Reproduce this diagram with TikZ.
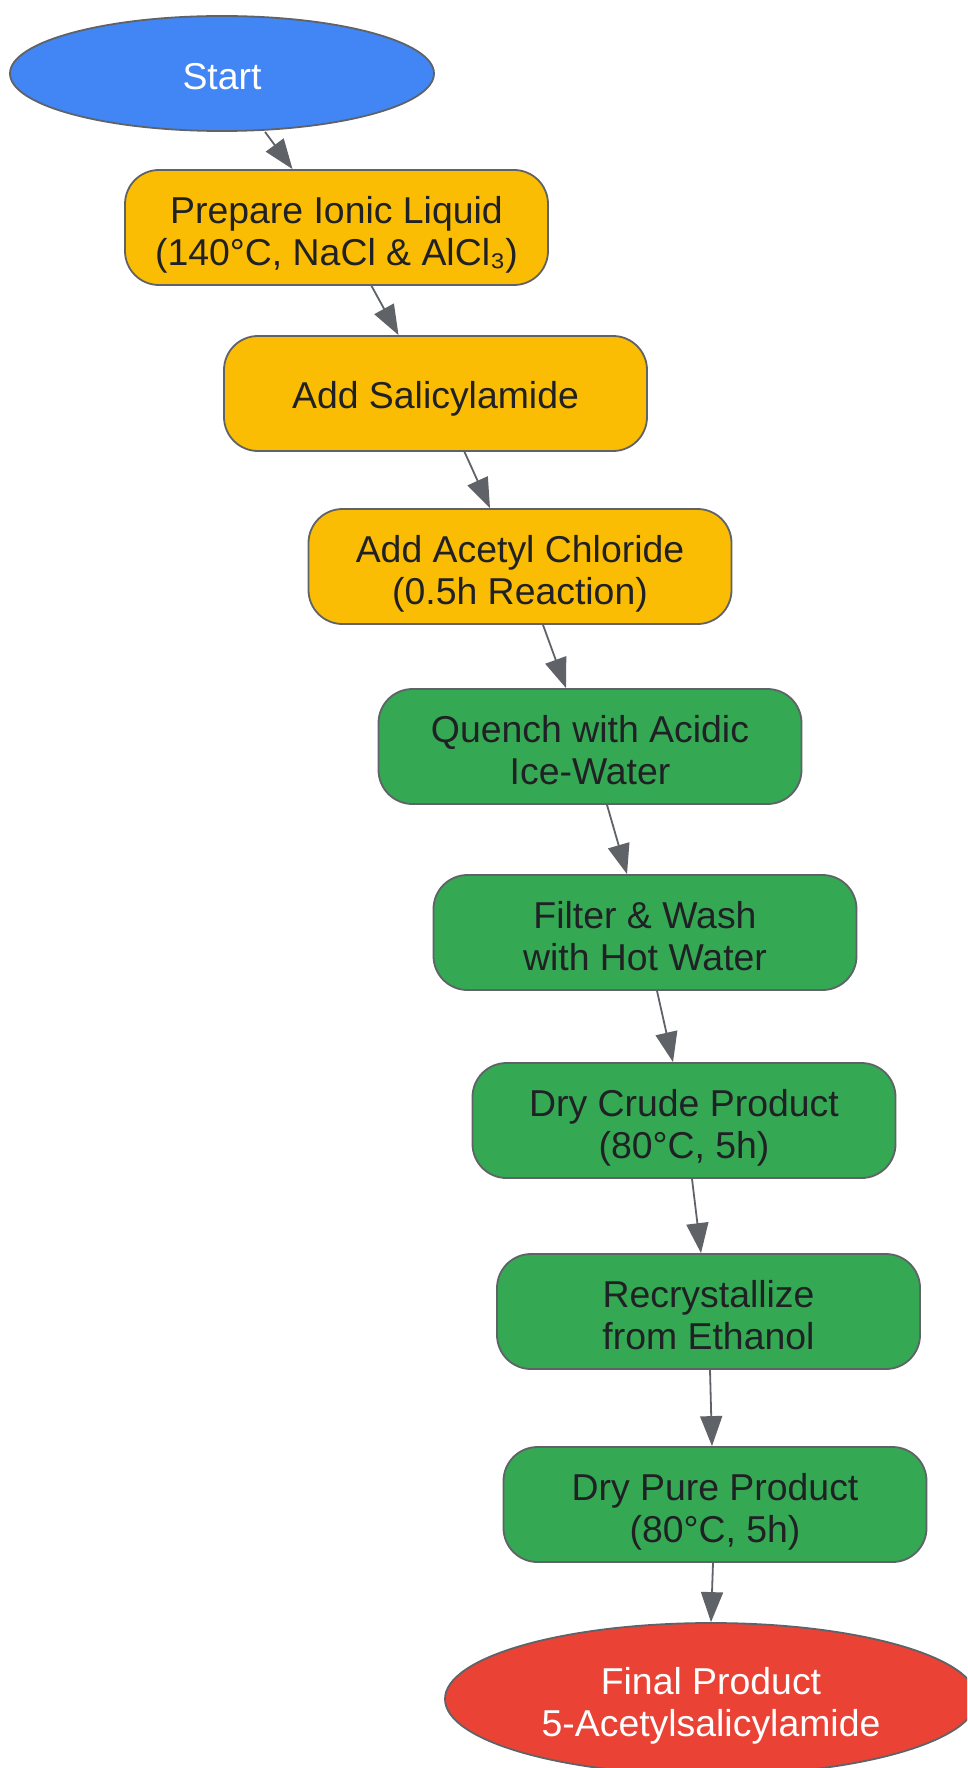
\documentclass[tikz,border=0pt]{standalone}
\usepackage{fontspec}
\setmainfont{Liberation Sans}
\usetikzlibrary{arrows.meta,shapes.geometric}
\definecolor{edgegray}{HTML}{5F6368}
\definecolor{gblue}{HTML}{4285F4}
\definecolor{gyellow}{HTML}{FBBC04}
\definecolor{ggreen}{HTML}{34A853}
\definecolor{gred}{HTML}{EA4335}
\definecolor{txtdark}{HTML}{202124}
\newcommand{\mlines}[2][9pt]{\raisebox{-#1}[\height][\depth]{\begin{tabular}{@{}c@{}}#2\end{tabular}}}
\tikzset{
  stepbox/.style={draw=edgegray, line width=1.8pt, rounded corners=34pt,
    minimum width=423pt, minimum height=115pt, inner sep=0pt,
    text=txtdark, font=\fontsize{37.4}{42}\selectfont},
  yellowbox/.style={stepbox, fill=gyellow},
  greenbox/.style={stepbox, fill=ggreen},
  termnode/.style={draw=edgegray, line width=1.8pt, ellipse, inner sep=0pt,
    text=white, font=\fontsize{37.4}{42}\selectfont},
  conn/.style={draw=edgegray, line width=1.8pt,
    -{Triangle[length=30pt,width=22pt]}, fill=edgegray},
}
\begin{document}
\begin{tikzpicture}[x=1pt,y=-1pt]
\clip (0,0) rectangle (967,1768);
\fill[white] (0,0) rectangle (967,1768);
\node[termnode, fill=gblue, minimum width=424pt, minimum height=115pt] (start) at (222,73.5) {\mlines[8pt]{Start}};
\node[yellowbox] (b1) at (336.5,227.5) {\mlines{Prepare Ionic Liquid\\(140°C, NaCl \& AlCl₃)}};
\node[yellowbox] (b2) at (435.5,393.5) {\mlines[7pt]{Add Salicylamide}};
\node[yellowbox] (b3) at (520,566.5) {\mlines{Add Acetyl Chloride\\(0.5h Reaction)}};
\node[greenbox] (b4) at (590,746.5) {\mlines{Quench with Acidic\\Ice-Water}};
\node[greenbox] (b5) at (645,932.5) {\mlines{Filter \& Wash\\with Hot Water}};
\node[greenbox] (b6) at (684,1120.5) {\mlines{Dry Crude Product\\(80°C, 5h)}};
\node[greenbox] (b7) at (708.5,1311.5) {\mlines{Recrystallize\\from Ethanol}};
\node[greenbox] (b8) at (715,1504.5) {\mlines{Dry Pure Product\\(80°C, 5h)}};
\node[termnode, fill=gred, minimum width=532pt, minimum height=152pt] (final) at (711,1699) {\mlines[8pt]{Final Product\\5-Acetylsalicylamide}};
\draw[conn] ([xshift=43pt]start.south) -- ([xshift=-44pt]b1.north);
\draw[conn] ([xshift=35pt]b1.south) -- ([xshift=-37pt]b2.north);
\draw[conn] ([xshift=29pt]b2.south) -- ([xshift=-30pt]b3.north);
\draw[conn] ([xshift=23pt]b3.south) -- ([xshift=-24pt]b4.north);
\draw[conn] ([xshift=17pt]b4.south) -- ([xshift=-18pt]b5.north);
\draw[conn] ([xshift=12pt]b5.south) -- ([xshift=-11pt]b6.north);
\draw[conn] ([xshift=8pt]b6.south) -- ([xshift=-7.5pt]b7.north);
\draw[conn] ([xshift=1.5pt]b7.south) -- ([xshift=-3pt]b8.north);
\draw[conn] ([xshift=-2pt]b8.south) -- (final.north);
\end{tikzpicture}
\end{document}
